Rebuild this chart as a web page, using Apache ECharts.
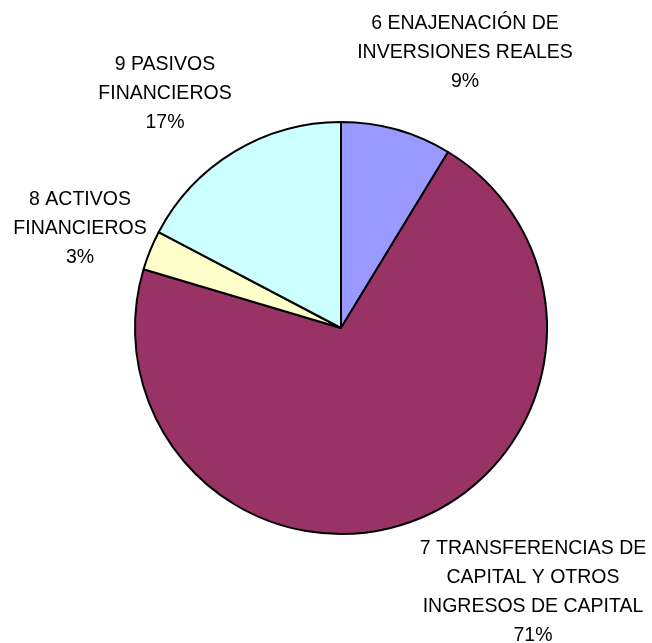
<!DOCTYPE html>
<html>
<head>
<meta charset="utf-8">
<script src="https://cdn.jsdelivr.net/npm/echarts@6/dist/echarts.min.js"></script>
<style>
  html, body { margin: 0; padding: 0; background: #fff; }
  #chart { width: 652px; height: 643px; }
</style>
</head>
<body>
<div id="chart"></div>
<script>
// categorías y valores (porcentaje del total)
const categories = [
  '6 ENAJENACIÓN DE\nINVERSIONES REALES',
  '7 TRANSFERENCIAS DE\nCAPITAL Y OTROS\nINGRESOS DE CAPITAL',
  '8 ACTIVOS\nFINANCIEROS',
  '9 PASIVOS\nFINANCIEROS'
];
const values = [8.7, 70.9, 3.1, 17.3];
const colors = ['#9999FF', '#993366', '#FFFFCC', '#CCFFFF'];

// centro de cada etiqueta (px)
const labelCenters = [[465, 53], [533, 592], [80, 229], [165, 94]];

const myChart = echarts.init(document.getElementById('chart'));
const option = {
  animation: false,
  color: colors,
  series: [
    {
      type: 'pie',
      center: [341, 328],
      radius: 206,
      startAngle: 90,
      clockwise: true,
      percentPrecision: 0,
      itemStyle: {
        borderColor: '#000',
        borderWidth: 2
      },
      label: {
        show: true,
        position: 'outside',
        formatter: '{b}\n{d}%',
        color: '#000',
        fontFamily: 'Liberation Sans, Arial, sans-serif',
        fontSize: 19.5,
        lineHeight: 29,
        align: 'center',
        overflow: 'none'
      },
      labelLine: { show: false },
      labelLayout: function (params) {
        const p = labelCenters[params.dataIndex];
        return { x: p[0], y: p[1], align: 'center', verticalAlign: 'middle' };
      },
      emphasis: { disabled: true },
      data: categories.map((name, i) => ({ name: name, value: values[i] }))
    }
  ]
};
myChart.setOption(option);
</script>
</body>
</html>
